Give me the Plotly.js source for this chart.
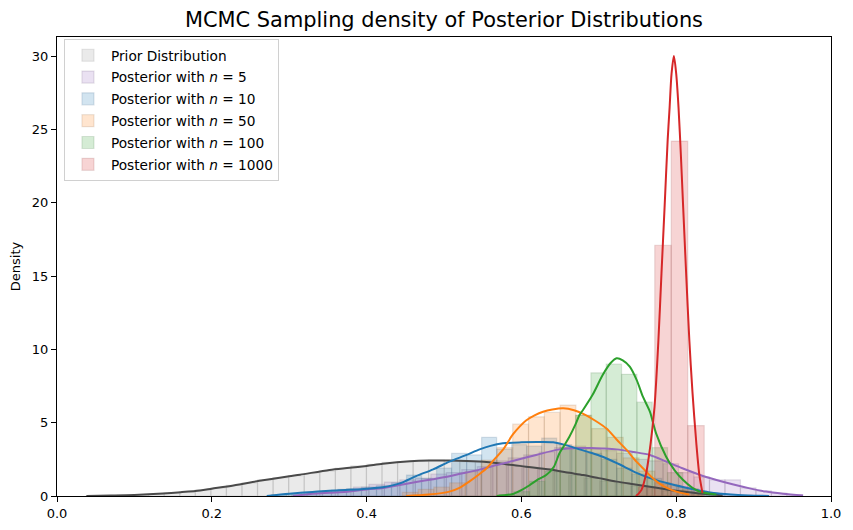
<!DOCTYPE html>
<html>
<head>
<meta charset="utf-8">
<script src="https://cdn.plot.ly/plotly-3.0.1.min.js"></script>
<style>html,body{margin:0;padding:0;background:#fff;}#chart{width:853px;height:530px;}</style>
</head>
<body>
<div id="chart"></div>
<script>
// ---- Data ----
const seriesNames = ["Prior Distribution", "Posterior with <i>n</i> = 5", "Posterior with <i>n</i> = 10",
                     "Posterior with <i>n</i> = 50", "Posterior with <i>n</i> = 100", "Posterior with <i>n</i> = 1000"];

// histogram bins: first edge, bin width, heights
const priorBinStart = 0.038, priorBinWidth = 0.0201;
const priorHist = [0.02,0.03,0.05,0.08,0.12,0.2,0.28,0.42,0.55,0.72,0.9,1.1,1.25,1.38,1.55,1.7,1.9,2.05,2.15,2.3,2.35,2.4,2.45,2.4,2.35,2.3,2.2,2.1,1.95,1.85,1.65,1.4,1.2,1.0,0.85,0.68,0.5,0.35,0.25,0.12,0.06];

const n5BinStart = 0.303, n5BinWidth = 0.02;
const n5Hist = [0.1,0.2,0.35,0.45,0.6,0.8,0.95,1.1,1.2,1.5,1.6,1.8,2.0,2.4,2.6,2.8,3.0,3.3,3.4,3.2,3.1,2.9,2.5,2.4,2.2,1.6,1.3,1.1,1.1,0.55,0.35,0.2,0.08];

const n10BinStart = 0.277, n10BinWidth = 0.0194;
const n10Hist = [0.1,0.15,0.25,0.3,0.4,0.5,0.6,0.7,0.9,1.43,1.2,1.9,2.9,2.8,4.0,3.2,3.5,3.4,3.95,3.5,3.3,2.9,2.5,1.9,1.5,1.2,0.8,0.6,0.35,0.2,0.1,0.05,0.03];

const n50BinStart = 0.446, n50BinWidth = 0.0204;
const n50Hist = [0.25,0.45,0.6,0.9,1.66,2.45,3.3,4.9,5.4,5.7,6.2,5.5,4.6,4.0,2.6,1.7,0.9,0.4,0.15];

const n100BinStart = 0.571, n100BinWidth = 0.0198;
const n100Hist = [0.1,0.3,1.0,1.7,3.3,5.5,8.4,9.0,8.3,6.4,3.3,1.6,0.5,0.15];

const n1000BinStart = 0.751, n1000BinWidth = 0.0213;
const n1000Hist = [0.6,17.1,24.2,4.8];

// KDE curves
const priorKdeX = [0.038,0.07,0.1,0.137,0.16,0.185,0.2,0.228,0.266,0.3,0.314,0.352,0.378,0.4,0.421,0.456,0.48,0.507,0.546,0.58,0.606,0.637,0.662,0.68,0.7,0.723,0.745,0.766,0.788,0.808,0.83,0.86];
const priorKdeY = [0,0.03,0.07,0.17,0.26,0.38,0.5,0.72,1.07,1.35,1.45,1.78,1.92,2.05,2.2,2.37,2.42,2.42,2.35,2.17,2.0,1.8,1.58,1.43,1.22,0.98,0.8,0.63,0.45,0.3,0.17,0.05];

const n5KdeX = [0.305,0.33,0.352,0.378,0.4,0.421,0.443,0.464,0.486,0.507,0.529,0.546,0.563,0.59,0.619,0.649,0.675,0.69,0.705,0.723,0.745,0.766,0.787,0.808,0.83,0.852,0.874,0.895,0.916,0.938,0.964];
const n5KdeY = [0,0.15,0.22,0.3,0.45,0.55,0.75,0.95,1.15,1.35,1.6,1.8,2.05,2.4,2.8,3.18,3.27,3.27,3.24,3.18,3.0,2.8,2.35,1.89,1.45,1.09,0.78,0.52,0.3,0.16,0.04];

const n10KdeX = [0.271,0.3,0.33,0.352,0.378,0.4,0.421,0.443,0.464,0.486,0.507,0.529,0.546,0.56,0.576,0.6,0.62,0.641,0.662,0.675,0.69,0.705,0.725,0.748,0.77,0.79,0.81,0.83,0.852,0.88,0.92];
const n10KdeY = [0,0.15,0.28,0.36,0.42,0.5,0.6,0.86,1.36,1.82,2.34,2.8,3.18,3.42,3.59,3.66,3.68,3.66,3.4,3.18,2.95,2.68,2.2,1.6,1.15,0.85,0.6,0.38,0.18,0.07,0];

const n50KdeX = [0.451,0.48,0.507,0.52,0.533,0.546,0.555,0.565,0.576,0.589,0.598,0.606,0.617,0.628,0.64,0.654,0.668,0.68,0.695,0.71,0.723,0.736,0.746,0.757,0.767,0.778,0.79,0.8,0.817];
const n50KdeY = [0,0.1,0.3,0.55,1.0,1.5,1.89,2.5,3.14,4.2,4.75,5.15,5.5,5.75,5.9,5.98,5.85,5.6,5.15,4.6,3.85,3.14,2.5,1.89,1.35,0.86,0.5,0.3,0.1];

const n100KdeX = [0.568,0.589,0.6,0.611,0.622,0.632,0.642,0.649,0.656,0.662,0.67,0.675,0.68,0.692,0.705,0.715,0.723,0.731,0.74,0.749,0.757,0.766,0.774,0.787,0.798,0.809,0.82,0.83,0.852];
const n100KdeY = [0,0.14,0.4,0.75,1.15,1.43,2.0,2.9,3.5,4.04,4.9,5.52,5.9,6.9,8.25,9.05,9.39,9.25,8.82,7.9,6.77,5.75,4.27,2.68,1.75,1.09,0.6,0.3,0.1];

const n1000KdeX = [0.748,0.755,0.761,0.767,0.772,0.777,0.781,0.785,0.789,0.7915,0.794,0.797,0.800,0.803,0.806,0.809,0.813,0.817,0.821,0.826,0.830,0.834];
const n1000KdeY = [0,0.4,1.5,3.6,6.1,10.6,15.2,19.7,24.3,26.5,28.8,30.0,28.8,26.5,23.3,19.7,15.0,10.6,7.1,3.6,1.4,0.2];

// ---- styling ----
const lineColors = ["#4a4a4a", "#9467bd", "#1f77b4", "#ff7f0e", "#2ca02c", "#d62728"];
const fillColors = ["rgba(140,140,140,0.18)", "rgba(148,103,189,0.2)", "rgba(31,119,180,0.2)",
                    "rgba(255,127,14,0.2)", "rgba(44,160,44,0.2)", "rgba(214,39,40,0.2)"];
const edgeColors = ["rgba(120,120,120,0.18)", "rgba(110,90,130,0.18)", "rgba(60,100,140,0.18)",
                    "rgba(150,110,80,0.18)", "rgba(80,120,80,0.18)", "rgba(150,80,80,0.18)"];

const hists = [[priorBinStart, priorBinWidth, priorHist], [n5BinStart, n5BinWidth, n5Hist],
               [n10BinStart, n10BinWidth, n10Hist], [n50BinStart, n50BinWidth, n50Hist],
               [n100BinStart, n100BinWidth, n100Hist], [n1000BinStart, n1000BinWidth, n1000Hist]];
const kdes = [[priorKdeX, priorKdeY], [n5KdeX, n5KdeY], [n10KdeX, n10KdeY],
              [n50KdeX, n50KdeY], [n100KdeX, n100KdeY], [n1000KdeX, n1000KdeY]];

const traces = [];
hists.forEach((h, i) => {
  const [start, w, heights] = h;
  const xs = heights.map((_, k) => start + w * (k + 0.5));
  traces.push({
    type: "bar", x: xs, y: heights, width: heights.map(() => w),
    name: seriesNames[i], legendgroup: "g" + i,
    marker: {color: fillColors[i], line: {color: edgeColors[i], width: 1.2}},
    hoverinfo: "skip"
  });
});
kdes.forEach((k, i) => {
  traces.push({
    type: "scatter", mode: "lines", x: k[0], y: k[1], showlegend: false, legendgroup: "g" + i,
    line: {color: lineColors[i], width: 2, shape: "spline", smoothing: 0.8}, hoverinfo: "skip"
  });
});

const font = {family: "DejaVu Sans, sans-serif", size: 13, color: "#000"};
const legendFont = {family: "DejaVu Sans, sans-serif", size: 13.7, color: "#000"};
const layout = {
  width: 853, height: 530,
  margin: {l: 57, r: 22, t: 37, b: 34},
  paper_bgcolor: "#fff", plot_bgcolor: "#fff",
  font: font,
  barmode: "overlay", bargap: 0,
  title: {text: "MCMC Sampling density of Posterior Distributions", x: 0.5, xref: "paper",
          y: 0.962, yref: "container", yanchor: "middle", font: {family: "DejaVu Sans, sans-serif", size: 20.9, color: "#000"}},
  xaxis: {range: [0, 1], tickvals: [0, 0.2, 0.4, 0.6, 0.8, 1.0], ticktext: ["0.0","0.2","0.4","0.6","0.8","1.0"],
          ticks: "outside", ticklen: 5, tickwidth: 1, tickcolor: "#000", showgrid: false, zeroline: false,
          showline: true, linecolor: "#000", linewidth: 1, mirror: true, tickfont: font},
  yaxis: {range: [0, 31.3], tickvals: [0, 5, 10, 15, 20, 25, 30], ticks: "outside", ticklen: 5, tickwidth: 1,
          tickcolor: "#000", showgrid: false, zeroline: false, showline: true, linecolor: "#000", linewidth: 1,
          mirror: true, tickfont: font, title: {text: "Density", font: font, standoff: 8}},
  legend: {x: 0.009, y: 0.996, xanchor: "left", yanchor: "top", bgcolor: "rgba(255,255,255,0.8)",
           bordercolor: "#d0d0d0", borderwidth: 1, font: legendFont, traceorder: "grouped", tracegroupgap: 1,
           itemwidth: 36}
};

Plotly.newPlot("chart", traces, layout, {displayModeBar: false, staticPlot: true});
</script>
</body>
</html>
